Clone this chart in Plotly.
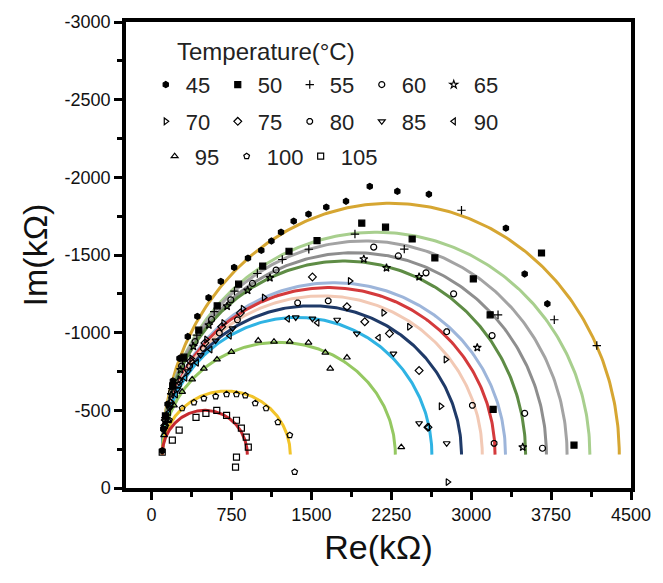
import numpy as np
import plotly.graph_objects as go

# ---------------- data ----------------
temps = ["45", "50", "55", "60", "65", "70", "75", "80", "85", "90", "95", "100", "105"]
line_colors = ["#D6A632", "#A8CF8E", "#A3A3A3", "#8E8E8E", "#5E8C45", "#9DB5DA", "#D43A3C",
               "#F2C9B5", "#1F3A68", "#2FB3E3", "#95C862", "#F2C42A", "#C62A2F"]
symbols = ["hexagon", "square", "cross-thin-open", "circle-open", "star-open", "triangle-right-open",
           "diamond-open", "octagon-open", "triangle-down-open", "triangle-left-open",
           "triangle-up-open", "pentagon-open", "square-open"]

# fitted semicircle parameters (kOhm): common start, base level, end on Re axis, peak Im
fit_start = 100.0
fit_base = -215.0
fit_end = [4390, 4114, 3900, 3706, 3511, 3322, 3224, 3104, 2909, 2631, 2288, 1302, 899]
fit_peak = [-1833, -1647, -1590, -1515, -1461, -1322, -1290, -1237, -1173, -1098, -938, -624, -500]

re_45 = [100, 110, 150, 200, 262, 340, 430, 535, 650, 775, 905, 1030, 1125, 1215, 1334, 1473, 1640,
         1825, 2048, 2307, 2603, 3326, 3502, 3715]
im_45 = [-240, -380, -540, -690, -835, -975, -1105, -1225, -1330, -1420, -1480, -1530, -1590, -1647,
         -1718, -1763, -1808, -1846, -1942, -1910, -1891, -1673, -1378, -1186]
re_50 = [130, 198, 303, 443, 616, 817, 1043, 1290, 1553, 1973, 2196, 2446, 2659, 3020, 3660, 3178, 3206, 3965]
im_50 = [-464, -657, -842, -1016, -1173, -1312, -1429, -1524, -1592, -1705, -1679, -1603, -1481, -1346,
         -1513, -1115, -506, -276]
re_55 = [129, 193, 292, 425, 588, 778, 993, 1227, 1476, 1909, 2372, 2909, 3252, 3780, 4179]
im_55 = [-454, -640, -817, -984, -1135, -1268, -1381, -1471, -1537, -1635, -1538, -1788, -1115, -1083, -917]
re_60 = [127, 188, 282, 408, 563, 744, 947, 1169, 2085, 2316, 2576, 2835, 3196, 3502, 3669]
im_60 = [-441, -617, -785, -942, -1085, -1211, -1317, -1403, -1551, -1494, -1385, -1250, -981, -481, -256]
re_65 = [126, 184, 272, 392, 538, 709, 902, 1111, 1992, 2205, 2511, 3057, 3484]
im_65 = [-431, -600, -761, -912, -1049, -1170, -1272, -1353, -1474, -1417, -1359, -904, -263]
re_70 = [124, 179, 263, 375, 514, 675, 857, 1055, 1862, 2177, 2418, 2761, 2715, 2780]
im_70 = [-407, -557, -700, -834, -956, -1063, -1154, -1226, -1333, -1128, -1038, -827, -526, -38]
re_75 = [124, 177, 258, 367, 501, 658, 834, 1510, 1834, 2001, 2233, 2511, 2594]
im_75 = [-402, -547, -686, -816, -934, -1038, -1127, -1359, -1167, -1070, -994, -756, -391]
re_80 = [123, 174, 252, 357, 486, 636, 806, 1371, 1658, 2770, 3011, 3215]
im_80 = [-392, -531, -663, -786, -899, -998, -1082, -1192, -1205, -1006, -532, -288]
re_85 = [121, 169, 242, 340, 461, 601, 760, 1353, 1510, 1742, 1927, 2270, 2511, 2770]
im_85 = [-381, -511, -635, -751, -856, -949, -1027, -1098, -1090, -1083, -994, -865, -417, -288]
re_90 = [119, 162, 228, 316, 425, 552, 733, 1279, 1556, 2131, 2594]
im_90 = [-368, -488, -602, -709, -806, -891, -980, -1090, -1064, -968, -391]
re_95 = [117, 154, 210, 287, 381, 491, 614, 749, 1001, 1149, 1297, 1473, 1631, 1834, 1677, 2344]
im_95 = [-341, -438, -532, -619, -699, -769, -828, -876, -949, -942, -942, -936, -872, -840, -769, -263]
re_100 = [167, 287, 398, 491, 602, 704, 797, 880, 973, 1075, 1186, 1297, 1343]
im_100 = [-436, -513, -551, -577, -590, -603, -603, -596, -545, -513, -423, -340, -103]
re_105 = [100, 195, 259, 417, 510, 612, 704, 797, 843, 889, 908, 797, 788]
im_105 = [-230, -308, -372, -455, -481, -500, -468, -436, -385, -327, -263, -199, -135]

re_pts = [re_45, re_50, re_55, re_60, re_65, re_70, re_75, re_80, re_85, re_90, re_95, re_100, re_105]
im_pts = [im_45, im_50, im_55, im_60, im_65, im_70, im_75, im_80, im_85, im_90, im_95, im_100, im_105]

x_tickvals = [0, 750, 1500, 2250, 3000, 3750, 4500]
x_ticktext = ["0", "750", "1500", "2250", "3000", "3750", "4500"]
x_minor = [375, 1125, 1875, 2625, 3375, 4125]
y_tickvals = [0, -500, -1000, -1500, -2000, -2500, -3000]
y_ticktext = ["0", "-500", "-1000", "-1500", "-2000", "-2500", "-3000"]
y_minor = [-250, -750, -1250, -1750, -2250, -2750]

# ---------------- figure ----------------
FONT = "Arial"
fig = go.Figure()

theta = np.linspace(0, np.pi, 240)
for i, t in enumerate(temps):
    c = (fit_start + fit_end[i]) / 2.0
    a = (fit_end[i] - fit_start) / 2.0
    fig.add_trace(go.Scatter(
        x=c - a * np.cos(theta),
        y=fit_base + (fit_peak[i] - fit_base) * np.sin(theta),
        mode="lines", line=dict(color=line_colors[i], width=3),
        showlegend=False, hoverinfo="skip"))

legend_of = ["legend"] * 5 + ["legend2"] * 5 + ["legend3"] * 3
row3_widths = {"95": 27, "100": 29, "105": 50}
for i, t in enumerate(temps):
    extra = {}
    if legend_of[i] == "legend3":
        extra["legendwidth"] = row3_widths[t]
    fig.add_trace(go.Scatter(
        x=re_pts[i], y=im_pts[i], mode="markers", name=t,
        marker=dict(symbol=symbols[i], size=6, color="black",
                    line=dict(color="black", width=1.2)),
        legend=legend_of[i], **extra))

def px_x(p):
    return (p - 126) / 511.0

def px_y(p):
    return (488 - p) / 468.0

leg_common = dict(orientation="h", xanchor="left", yanchor="middle",
                  entrywidth=27, entrywidthmode="pixels", itemwidth=30,
                  bgcolor="rgba(0,0,0,0)", borderwidth=0,
                  font=dict(family=FONT, size=22, color="#222"),
                  tracegroupgap=0, traceorder="normal")

fig.update_layout(
    width=663, height=583,
    margin=dict(l=126, r=26, t=20, b=95),
    paper_bgcolor="white", plot_bgcolor="white",
    font=dict(family=FONT, color="#111"),
    legend=dict(x=px_x(146), y=px_y(83), **leg_common),
    legend2=dict(x=px_x(146), y=px_y(120), **leg_common),
    legend3=dict(x=px_x(155), y=px_y(155), **leg_common),
    annotations=[dict(text="Temperature(°C)", x=px_x(176), y=px_y(50), xref="paper", yref="paper",
                      xanchor="left", yanchor="middle", showarrow=False,
                      font=dict(family=FONT, size=24, color="#222"))],
)

fig.update_xaxes(
    range=[-240, 4500], tickmode="array", tickvals=x_tickvals, ticktext=x_ticktext,
    ticks="outside", ticklen=8, tickwidth=3, tickcolor="black",
    minor=dict(tickvals=x_minor, ticks="outside", ticklen=5, tickwidth=2.5, tickcolor="black"),
    showline=True, linewidth=3.5, linecolor="black", mirror=True,
    showgrid=False, zeroline=False,
    tickfont=dict(family=FONT, size=18, color="#111"),
    title=dict(text="Re(kΩ)", font=dict(family=FONT, size=34, color="#111"), standoff=12),
)
fig.update_yaxes(
    range=[0, -3000], tickmode="array", tickvals=y_tickvals, ticktext=y_ticktext,
    ticks="outside", ticklen=8, tickwidth=3, tickcolor="black",
    minor=dict(tickvals=y_minor, ticks="outside", ticklen=5, tickwidth=2.5, tickcolor="black"),
    showline=True, linewidth=3.5, linecolor="black", mirror=True,
    showgrid=False, zeroline=False,
    tickfont=dict(family=FONT, size=18, color="#111"),
    title=dict(text="Im(kΩ)", font=dict(family=FONT, size=34, color="#111"), standoff=8),
)

fig.write_html("out.html")
